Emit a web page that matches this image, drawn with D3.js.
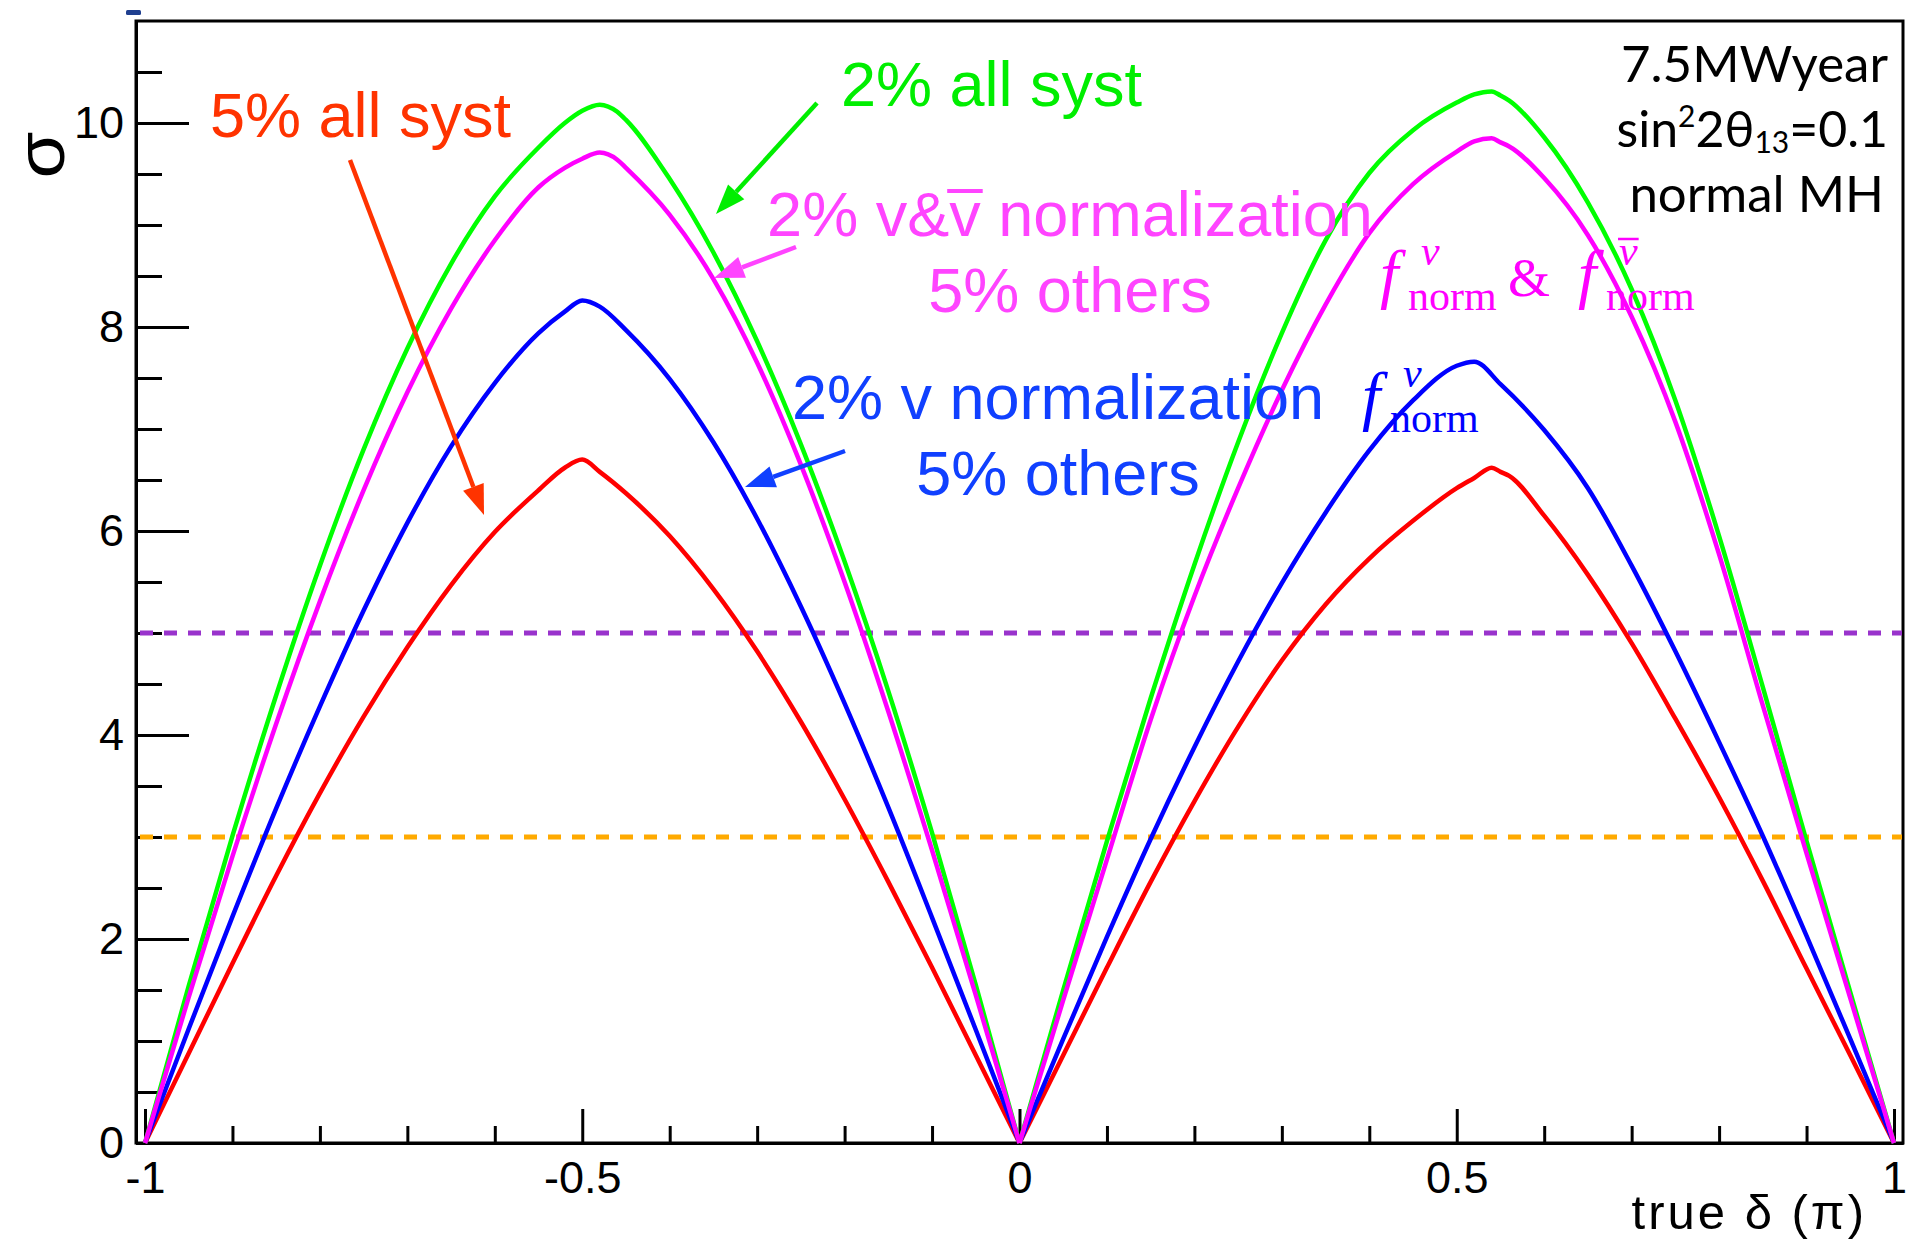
<!DOCTYPE html>
<html>
<head>
<meta charset="utf-8">
<script src="https://cdn.jsdelivr.net/npm/d3@7"></script>
<style>
  html, body { margin: 0; padding: 0; background: #fff; }
  svg { display: block; }
</style>
</head>
<body>
<svg id="chart" width="1906" height="1240"></svg>
<script>
// true delta_CP in units of pi
const deltaPi = [-1, -0.95, -0.9, -0.85, -0.8, -0.75, -0.7, -0.65, -0.6, -0.55, -0.5,
  -0.45, -0.4, -0.35, -0.3, -0.25, -0.2, -0.15, -0.1, -0.05, 0,
  0.05, 0.1, 0.15, 0.2, 0.25, 0.3, 0.35, 0.4, 0.45, 0.5,
  0.55, 0.6, 0.65, 0.7, 0.75, 0.8, 0.85, 0.9, 0.95, 1];

// CP-violation significance (sigma) for each systematics scenario
const sigmaAllSyst2 = [0, 1.54, 3.01, 4.39, 5.66, 6.8, 7.79, 8.62, 9.28, 9.76, 10.12,
  10.03, 9.45, 8.73, 7.86, 6.85, 5.7, 4.43, 3.04, 1.55, 0,
  1.5, 2.96, 4.36, 5.67, 6.87, 7.94, 8.85, 9.51, 9.93, 10.2,
  10.27, 9.86, 9.22, 8.37, 7.28, 5.95, 4.47, 2.96, 1.48, 0];
const sigmaNuNubarNorm2 = [0, 1.43, 2.81, 4.11, 5.31, 6.4, 7.36, 8.18, 8.85, 9.37, 9.65,
  9.56, 9.1, 8.47, 7.65, 6.65, 5.5, 4.23, 2.87, 1.45, 0,
  1.4, 2.78, 4.15, 5.36, 6.42, 7.38, 8.22, 8.92, 9.4, 9.72,
  9.81, 9.46, 8.9, 8.1, 7.07, 5.77, 4.29, 2.84, 1.42, 0];
const sigmaNuNorm2 = [0, 1.12, 2.22, 3.28, 4.28, 5.22, 6.08, 6.83, 7.45, 7.94, 8.26,
  7.97, 7.49, 6.87, 6.12, 5.26, 4.31, 3.29, 2.21, 1.11, 0,
  1.02, 2.02, 2.98, 3.88, 4.72, 5.49, 6.18, 6.79, 7.28, 7.62,
  7.44, 6.99, 6.42, 5.66, 4.82, 3.93, 3.01, 2.03, 1.02, 0];
const sigmaAllSyst5 = [0, 0.88, 1.76, 2.62, 3.43, 4.18, 4.86, 5.47, 5.99, 6.4, 6.7,
  6.37, 5.95, 5.43, 4.82, 4.13, 3.37, 2.56, 1.72, 0.86, 0,
  0.86, 1.72, 2.56, 3.35, 4.08, 4.73, 5.28, 5.73, 6.1, 6.42,
  6.58, 6.15, 5.57, 4.9, 4.16, 3.39, 2.57, 1.71, 0.86, 0];

// finer samples around the two maxima of each curve
const peaksAllSyst2 = [[-0.52, 10.0], [-0.48, 10.18], [-0.46, 10.11], [0.52, 10.28], [0.54, 10.31], [0.56, 10.22]];
const peaksNuNubarNorm2 = [[-0.52, 9.56], [-0.48, 9.71], [-0.46, 9.64], [0.52, 9.82], [0.54, 9.85], [0.56, 9.77]];
const peaksNuNorm2 = [[-0.52, 8.15], [-0.48, 8.2], [0.52, 7.66]];
const peaksAllSyst5 = [[-0.52, 6.62], [-0.48, 6.58], [0.52, 6.52], [0.54, 6.62], [0.56, 6.54]];

// reference significance levels
const sigmaLevels = [5, 3];

const xMajorTicks = [-1, -0.5, 0, 0.5, 1];
const xTickLabels = ["-1", "-0.5", "0", "0.5", "1"];
const xMinorTicks = [-0.9, -0.8, -0.7, -0.6, -0.4, -0.3, -0.2, -0.1, 0.1, 0.2, 0.3, 0.4, 0.6, 0.7, 0.8, 0.9];
const yMajorTicks = [0, 2, 4, 6, 8, 10];
const yMinorTicks = [0.5, 1, 1.5, 2.5, 3, 3.5, 4.5, 5, 5.5, 6.5, 7, 7.5, 8.5, 9, 9.5, 10.5];

const svg = d3.select("#chart");
const L = 136, R = 1903, T = 21, B = 1143;

const x = d3.scaleLinear().domain([-1.0103, 1.0103]).range([L, R]);
const y = d3.scaleLinear().domain([0, 11]).range([B, T]);

const sans = "'Liberation Sans', Arial, Helvetica, sans-serif";
const serif = "'Liberation Serif', 'Times New Roman', serif";
const gill = "Lato, 'Open Sans', sans-serif";

// small mark above the frame corner
svg.append("rect").attr("x", 126).attr("y", 10).attr("width", 15).attr("height", 5)
  .attr("rx", 1.5).attr("fill", "#1f3f8f");

// frame
svg.append("rect").attr("x", L).attr("y", T).attr("width", R - L).attr("height", B - T)
  .attr("fill", "none").attr("stroke", "#000").attr("stroke-width", 3);

// axes: ticks pointing into the frame
function styleAxis(g) {
  g.select(".domain").attr("stroke", "#000").attr("stroke-width", 3);
  g.selectAll(".tick line").attr("stroke", "#000").attr("stroke-width", 3);
  g.selectAll(".tick text").attr("fill", "#000").attr("font-family", sans).attr("font-size", 45);
}

svg.append("g").attr("transform", `translate(0,${B})`)
  .call(d3.axisBottom(x).tickValues(xMinorTicks).tickSize(-17).tickSizeOuter(0).tickFormat(""))
  .call(styleAxis);
svg.append("g").attr("transform", `translate(0,${B})`)
  .call(d3.axisBottom(x).tickValues(xMajorTicks).tickSize(-34).tickSizeOuter(0).tickPadding(18)
    .tickFormat((d, i) => xTickLabels[i]))
  .call(styleAxis);

svg.append("g").attr("transform", `translate(${L},0)`)
  .call(d3.axisLeft(y).tickValues(yMinorTicks).tickSize(-26).tickSizeOuter(0).tickFormat(""))
  .call(styleAxis);
svg.append("g").attr("transform", `translate(${L},0)`)
  .call(d3.axisLeft(y).tickValues(yMajorTicks).tickSize(-53).tickSizeOuter(0).tickPadding(12)
    .tickFormat(d3.format("d")))
  .call(styleAxis);

// axis titles
svg.append("text").attr("transform", "translate(64,155) rotate(-90) scale(1.12,1)")
  .attr("text-anchor", "middle").attr("font-family", sans).attr("font-size", 68).text("σ");
svg.append("text").attr("x", 1867).attr("y", 1229).attr("text-anchor", "end")
  .attr("font-family", sans).attr("font-size", 49).attr("letter-spacing", 3).text("true δ (π)");

// 3 sigma and 5 sigma levels
const levelColors = ["#9933cc", "#ffaa00"];
svg.selectAll("line.level").data(sigmaLevels).join("line").attr("class", "level")
  .attr("x1", L + 1).attr("x2", R - 1)
  .attr("y1", d => y(d)).attr("y2", d => y(d))
  .attr("stroke", (d, i) => levelColors[i]).attr("stroke-width", 5)
  .attr("stroke-dasharray", "13 11").attr("stroke-dashoffset", 21);

// significance curves, one smooth path per lobe so the zeros stay sharp
function points(values, extra) {
  return deltaPi.map((d, i) => [d, values[i]]).concat(extra).sort((a, b) => a[0] - b[0]);
}
const curves = [
  { pts: points(sigmaAllSyst5, peaksAllSyst5), color: "#ff0000" },
  { pts: points(sigmaNuNorm2, peaksNuNorm2), color: "#0000ff" },
  { pts: points(sigmaAllSyst2, peaksAllSyst2), color: "#00ff00" },
  { pts: points(sigmaNuNubarNorm2, peaksNuNubarNorm2), color: "#ff00ff" }
];
const lobes = [];
curves.forEach(c => {
  lobes.push({ pts: c.pts.filter(p => p[0] <= 0), color: c.color });
  lobes.push({ pts: c.pts.filter(p => p[0] >= 0), color: c.color });
});
const line = d3.line().x(d => x(d[0])).y(d => y(d[1])).curve(d3.curveMonotoneX);
svg.selectAll("path.curve").data(lobes).join("path").attr("class", "curve")
  .attr("d", d => line(d.pts)).attr("fill", "none")
  .attr("stroke", d => d.color).attr("stroke-width", 4.5).attr("stroke-linejoin", "round");

// annotation arrows
function arrow(x1, y1, x2, y2, color) {
  const a = Math.atan2(y2 - y1, x2 - x1), len = 30, half = 11;
  const bx = x2 - len * Math.cos(a), by = y2 - len * Math.sin(a);
  svg.append("line").attr("x1", x1).attr("y1", y1).attr("x2", bx).attr("y2", by)
    .attr("stroke", color).attr("stroke-width", 4.5);
  const nx = -Math.sin(a) * half, ny = Math.cos(a) * half;
  svg.append("path")
    .attr("d", `M${x2},${y2}L${bx + nx},${by + ny}L${bx - nx},${by - ny}Z`)
    .attr("fill", color);
}
arrow(350, 160, 484, 515, "#ff3300");
arrow(817, 103, 716, 214, "#00ee00");
arrow(796, 247, 714, 278, "#ff44ff");
arrow(845, 451, 745, 487, "#1040ff");

// bar drawn over one character of a text element (antineutrino)
function overbar(textSel, index, lift, width, extra) {
  const node = textSel.node();
  const s = node.getStartPositionOfChar(index), e = node.getEndPositionOfChar(index);
  svg.append("line").attr("x1", s.x - extra).attr("x2", e.x + extra)
    .attr("y1", s.y - lift).attr("y2", s.y - lift)
    .attr("stroke", textSel.attr("fill")).attr("stroke-width", width);
}

// scenario labels
function label(txt, xPos, yPos, color, anchor) {
  return svg.append("text").attr("x", xPos).attr("y", yPos).attr("text-anchor", anchor || "start")
    .attr("font-family", sans).attr("font-size", 63).attr("fill", color).text(txt);
}
label("5% all syst", 210, 137, "#ff3300");
label("2% all syst", 841, 106, "#00ee00");
const nuNubar = label("2% v&v normalization", 1070, 236, "#ff44ff", "middle");
overbar(nuNubar, 5, 45, 4, 2);
label("5% others", 1070, 312, "#ff44ff", "middle");
label("2% v normalization", 1058, 419, "#1040ff", "middle");
label("5% others", 1058, 495, "#1040ff", "middle");

// normalization parameters in math notation
function mathSym(xPos, yPos, color, bar) {
  svg.append("text").attr("x", xPos).attr("y", yPos).attr("font-family", serif)
    .attr("font-style", "italic").attr("font-size", 66).attr("fill", color).text("f");
  const nu = svg.append("text").attr("x", xPos + 41).attr("y", yPos - 31).attr("font-family", serif)
    .attr("font-style", "italic").attr("font-size", 42).attr("fill", color).text("ν");
  if (bar) overbar(nu, 0, 26, 2.5, 1);
  svg.append("text").attr("x", xPos + 28).attr("y", yPos + 14).attr("font-family", serif)
    .attr("font-size", 42).attr("fill", color).text("norm");
}
mathSym(1380, 296, "#ff00ff", false);
svg.append("text").attr("x", 1508).attr("y", 296).attr("font-family", serif)
  .attr("font-size", 54).attr("fill", "#ff00ff").text("&");
mathSym(1578, 296, "#ff00ff", true);
mathSym(1362, 418, "#0000ff", false);

// run conditions
const info = svg.append("g").attr("font-family", gill).attr("fill", "#000").attr("text-anchor", "end");
info.append("text").attr("x", 1888).attr("y", 82).attr("font-size", 51).text("7.5MWyear");
const s2 = info.append("text").attr("x", 1888).attr("y", 147).attr("font-size", 50);
s2.append("tspan").text("sin");
s2.append("tspan").attr("font-size", 30).attr("dy", -20).text("2");
s2.append("tspan").attr("dy", 20).text("2θ");
s2.append("tspan").attr("font-size", 30).attr("dy", 6).text("13");
s2.append("tspan").attr("dy", -6).text("=0.1");
info.append("text").attr("x", 1884).attr("y", 212).attr("font-size", 51).text("normal MH");
</script>
</body>
</html>
